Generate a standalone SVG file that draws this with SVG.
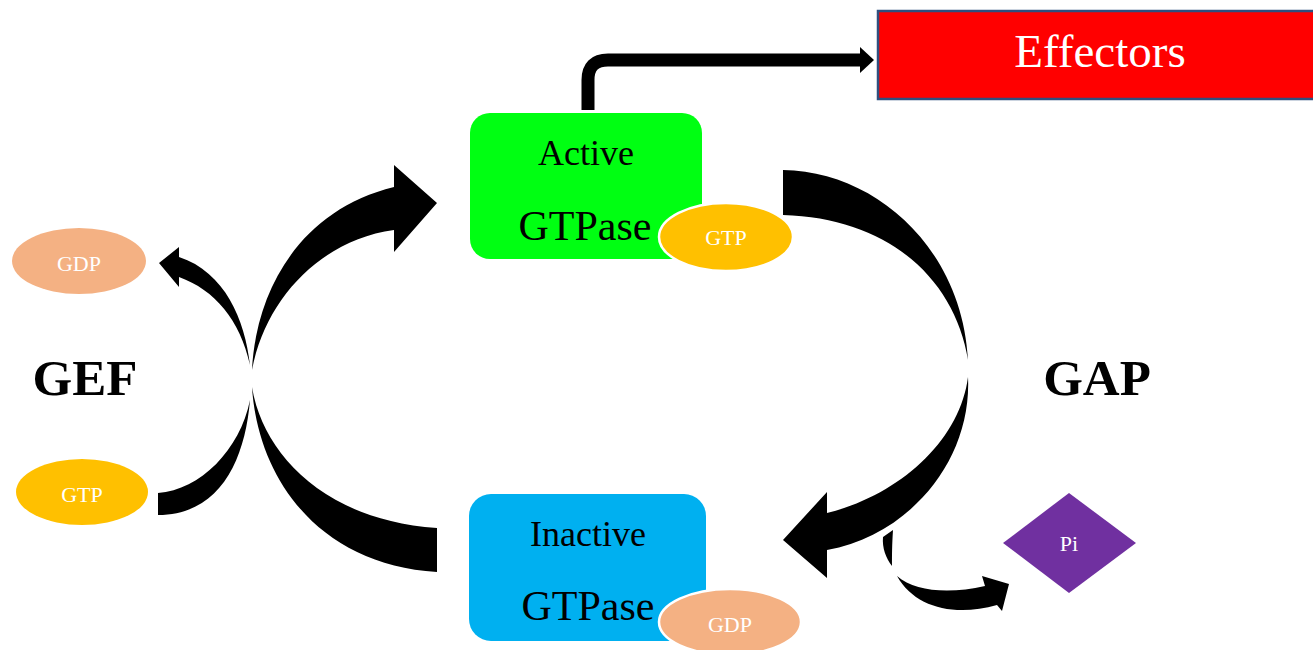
<svg xmlns="http://www.w3.org/2000/svg" width="1313" height="650" viewBox="0 0 1313 650">
<style>
.serif{font-family:"Liberation Serif","Times New Roman",serif;}
.big{font-size:42px;fill:#000;text-anchor:middle;}
.mid{font-size:36px;fill:#000;text-anchor:middle;}
.small{font-size:22px;fill:#fff;text-anchor:middle;}
.bold{font-size:51px;font-weight:bold;fill:#000;text-anchor:middle;}
.arrow{fill:#000;stroke:none;}
.gtp{fill:#FFC000;}
.gdp{fill:#F4B183;}
</style>
<rect width="1313" height="650" fill="#fff"/>
<g id="connectors">
  <path d="M588,110 L588,80 Q588,60 608,60 L862,60" fill="none" stroke="#000" stroke-width="13"/>
  <polygon class="arrow" points="860,47 874,60 860,73"/>
  <path class="arrow" d="M252,370 C256,290 300,210 394,187 L394,165 L437,203 L394,252 L394,230 C320,240 265,300 252,370 Z"/>
  <path class="arrow" d="M252,387 C262,450 320,520 437,528 L437,572 C320,565 258,480 252,387 Z"/>
  <path class="arrow" d="M250,365 C245,320 225,272 179,257 L179,247 L159,263 L179,287 L179,277 C215,290 240,320 250,365 Z"/>
  <path class="arrow" d="M158,493 C200,490 240,450 250,400 C245,460 220,515 158,515 Z"/>
  <path class="arrow" d="M783,170 C875,171 962,248 968,360 C955,280 890,218 783,215 Z"/>
  <path class="arrow" d="M968,377 C972,460 910,535 827,550 L827,578 L783,540 L827,492 L827,513 C900,495 960,440 968,377 Z"/>
  <path class="arrow" d="M893,530 C892,545 892,555 892,566 C886,558 882,548 883,537 Z"/>
  <path class="arrow" d="M897,576 C915,592 950,594 985,586 L982,576 L1009,584 L1002,611 L997,605 C955,617 915,608 897,576 Z"/>
</g>
<g id="effectors">
  <rect x="878" y="11" width="440" height="88" fill="#FF0000" stroke="#2F4F7F" stroke-width="2.5"/>
  <text class="serif" x="1100" y="67" font-size="47" fill="#fff" text-anchor="middle">Effectors</text>
</g>
<g id="active">
  <rect x="470" y="113" width="232" height="146" rx="20" fill="#00FF12"/>
  <text class="serif mid" x="586" y="165">Active</text>
  <text class="serif big" x="585" y="240">GTPase</text>
</g>
<g id="active-gtp">
  <ellipse class="gtp" cx="726" cy="237" rx="67" ry="34" stroke="#fff" stroke-width="2.5"/>
  <text class="serif small" x="726" y="245">GTP</text>
</g>
<g id="inactive">
  <rect x="469" y="494" width="237" height="147" rx="22" fill="#00B0F0"/>
  <text class="serif mid" x="588" y="546">Inactive</text>
  <text class="serif big" x="588" y="620">GTPase</text>
</g>
<g id="inactive-gdp">
  <ellipse class="gdp" cx="730" cy="622" rx="71" ry="33" stroke="#fff" stroke-width="2.5"/>
  <text class="serif small" x="730" y="632">GDP</text>
</g>
<g id="gdp-left">
  <ellipse class="gdp" cx="79" cy="261" rx="67" ry="33"/>
  <text class="serif small" x="79" y="271">GDP</text>
</g>
<g id="gtp-left">
  <ellipse class="gtp" cx="82" cy="492" rx="66" ry="33"/>
  <text class="serif small" x="82" y="502">GTP</text>
</g>
<g id="gef">
  <text class="serif bold" x="85" y="395">GEF</text>
</g>
<g id="gap">
  <text class="serif bold" x="1097" y="395">GAP</text>
</g>
<g id="pi">
  <polygon points="1069,493 1136,543 1069,593 1003,543" fill="#7030A0"/>
  <text class="serif small" x="1069" y="551">Pi</text>
</g>
</svg>
